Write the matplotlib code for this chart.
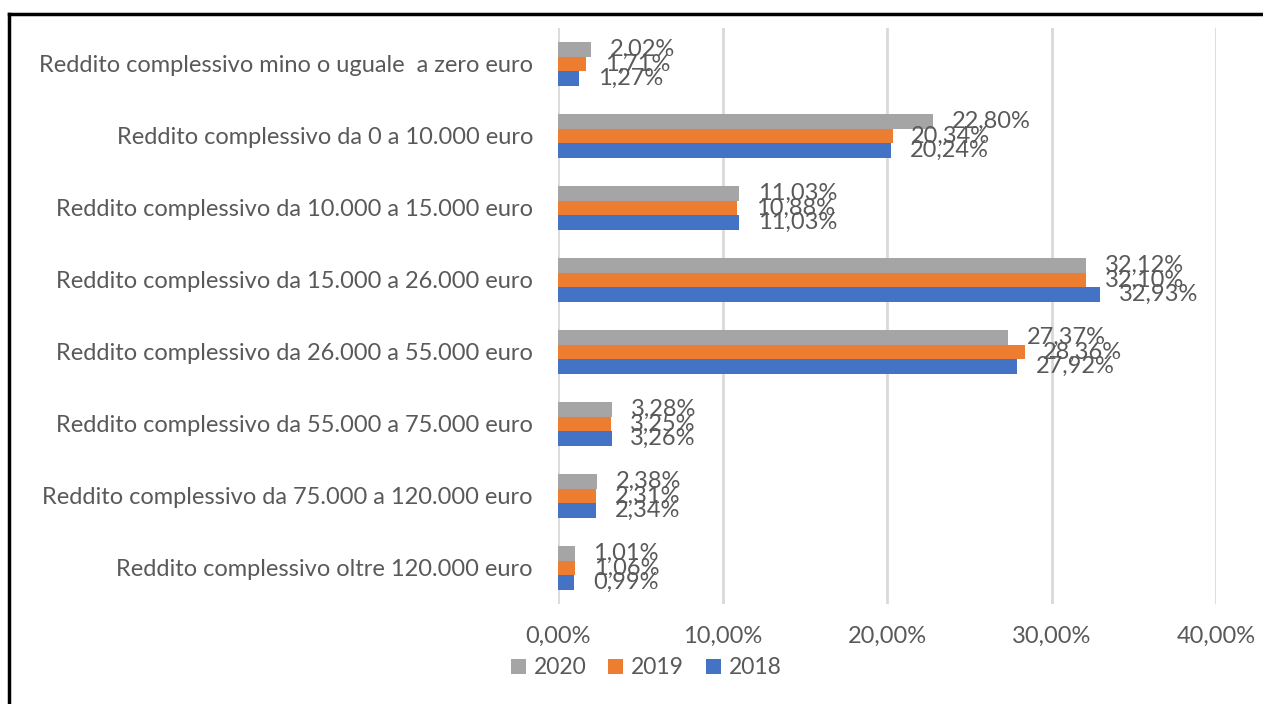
import numpy as np
import matplotlib.pyplot as plt
from matplotlib.lines import Line2D
from matplotlib.patches import Patch

plt.rcParams["font.family"] = ["Lato", "DejaVu Sans"]

categorie = [
    "Reddito complessivo mino o uguale  a zero euro",
    "Reddito complessivo da 0 a 10.000 euro",
    "Reddito complessivo da 10.000 a 15.000 euro",
    "Reddito complessivo da 15.000 a 26.000 euro",
    "Reddito complessivo da 26.000 a 55.000 euro",
    "Reddito complessivo da 55.000 a 75.000 euro",
    "Reddito complessivo da 75.000 a 120.000 euro",
    "Reddito complessivo oltre 120.000 euro",
]
anni = ["2020", "2019", "2018"]
val_2020 = [2.02, 22.80, 11.03, 32.12, 27.37, 3.28, 2.38, 1.01]
val_2019 = [1.71, 20.34, 10.88, 32.10, 28.36, 3.25, 2.31, 1.06]
val_2018 = [1.27, 20.24, 11.03, 32.93, 27.92, 3.26, 2.34, 0.99]
tick_valori = [0, 10, 20, 30, 40]

colori = {"2020": "#A5A5A5", "2019": "#ED7D31", "2018": "#4472C4"}
testo = "#595959"
fs = 17

fig = plt.figure(figsize=(12.63, 7.04), dpi=100)
ax = fig.add_axes([558 / 1263, 1 - 604 / 704, (1216 - 558) / 1263, 576 / 704])

y = np.arange(len(categorie))
h = 0.2
serie = [("2020", val_2020, -h), ("2019", val_2019, 0), ("2018", val_2018, h)]
for anno, valori, off in serie:
    bars = ax.barh(y + off, valori, height=h, color=colori[anno], zorder=3)
    for b, v in zip(bars, valori):
        ax.annotate(f"{v:.2f}%".replace(".", ","),
                    (b.get_width(), b.get_y() + b.get_height() / 2),
                    xytext=(13.5, 0), textcoords="offset points",
                    ha="left", va="center", fontsize=fs, color=testo, zorder=4)

ax.set_ylim(len(categorie) - 0.5, -0.5)
ax.set_xlim(0, 40)
ax.set_xticks(tick_valori)
ax.set_xticklabels([f"{t:.2f}%".replace(".", ",") for t in tick_valori])
ax.set_yticks(y)
ax.set_yticklabels(categorie)
ax.tick_params(axis="both", length=0, labelsize=fs, colors=testo)
ax.tick_params(axis="y", pad=18)
ax.tick_params(axis="x", pad=16)
ax.grid(axis="x", color="#D9D9D9", linewidth=2, zorder=0)
for s in ax.spines.values():
    s.set_visible(False)

handles = [Patch(facecolor=colori[a], label=a) for a in anni]
fig.legend(handles=handles, loc="center", bbox_to_anchor=(646 / 1263, 1 - 668 / 704),
           ncol=3, frameon=False, fontsize=16.5, labelcolor=testo,
           handlelength=0.65, handleheight=0.65, handletextpad=0.35, columnspacing=0.95)

fig.add_artist(Line2D([9 / 1263, 1], [1 - 14 / 704, 1 - 14 / 704],
                      transform=fig.transFigure, color="black", linewidth=2.5))
fig.add_artist(Line2D([9 / 1263, 9 / 1263], [1 - 14 / 704, 0],
                      transform=fig.transFigure, color="black", linewidth=2.5))

fig.savefig("out.png", dpi=100)
